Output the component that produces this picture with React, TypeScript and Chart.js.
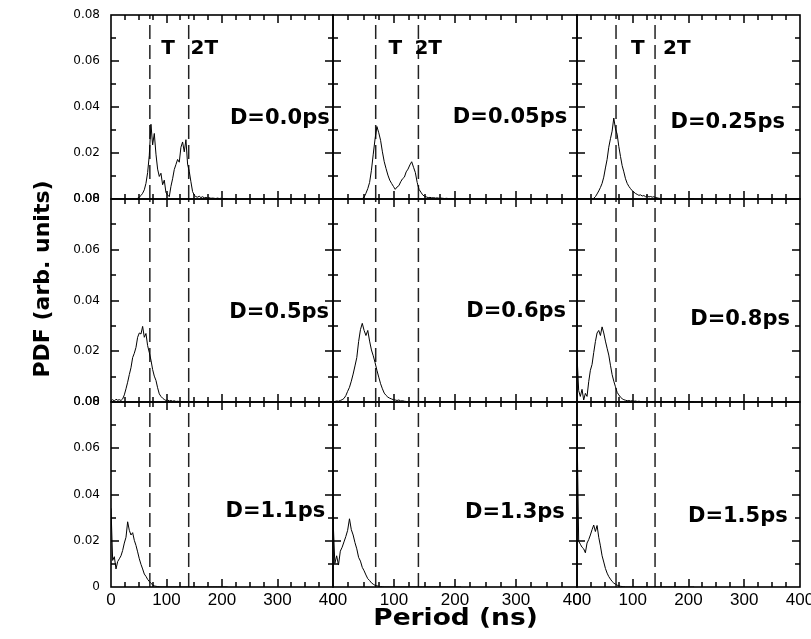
import React, { useEffect, useRef } from 'react';
import { Chart, registerables } from 'chart.js';

Chart.register(...registerables);

// Period bins shared by every histogram (ns)
const periodNs = [
  0, 3, 6, 9, 12, 15, 18, 21, 24, 27,
  30, 33, 36, 39, 42, 45, 48, 51, 54, 57,
  60, 63, 66, 69, 72, 75, 78, 81, 84, 87,
  90, 93, 96, 99, 102, 105, 108, 111, 114, 117,
  120, 123, 126, 129, 132, 135, 138, 141, 144, 147,
  150, 153, 156, 159, 162, 165, 168, 171, 174, 177,
  180, 183, 186, 189, 192, 195, 198, 201, 204, 207,
  210,
];

// PDF of the period for each jitter amplitude D
const pdfD000 = [
  0, 0, 0, 0, 0, 0, 0, 0, 0, 0,
  0, 0, 0, 0, 0, 0, 0.0003, 0.0008, 0.0015, 0.0025,
  0.004, 0.0068, 0.0115, 0.019, 0.0325, 0.0235, 0.0285, 0.0195, 0.013, 0.0098,
  0.0112, 0.0062, 0.0082, 0.0028, 0.0018, 0.001, 0.0055, 0.0088, 0.0128, 0.015,
  0.0172, 0.016, 0.0225, 0.0248, 0.0205, 0.0258, 0.0152, 0.012, 0.0075, 0.0032,
  0.0017, 0.001, 0.0008, 0.0012, 0.0006, 0.001, 0.0005, 0.0007, 0.0004, 0.0006,
  0.0003, 0.0004, 0.0003, 0.0002, 0.0004, 0.0002, 0.0003, 0.0001, 0.0002, 0.0001,
  0,
];
const pdfD005 = [
  0, 0, 0, 0, 0, 0, 0, 0, 0, 0,
  0, 0, 0, 0, 0, 0, 0.0002, 0.0008, 0.0025, 0.0045,
  0.0072, 0.0125, 0.0195, 0.0262, 0.0315, 0.0288, 0.0255, 0.0205, 0.0162, 0.0132,
  0.0104, 0.0082, 0.0068, 0.0055, 0.0042, 0.0052, 0.0058, 0.0075, 0.0088, 0.0095,
  0.0118, 0.013, 0.0148, 0.0162, 0.0138, 0.0115, 0.0072, 0.0042, 0.003, 0.0018,
  0.0012, 0.0009, 0.0006, 0.0007, 0.0005, 0.0006, 0.0004, 0.0005, 0.0003, 0.0004,
  0.0003, 0.0002, 0.0003, 0.0002, 0.0001, 0.0002, 0.0001, 0, 0, 0,
  0,
];
const pdfD025 = [
  0, 0, 0, 0, 0, 0, 0, 0, 0, 0,
  0.0003, 0.001, 0.0022, 0.0035, 0.005, 0.0068, 0.0095, 0.0135, 0.0172, 0.0225,
  0.0262, 0.0295, 0.0352, 0.0305, 0.0282, 0.0228, 0.0185, 0.0145, 0.0118, 0.0088,
  0.0068, 0.0055, 0.0045, 0.0036, 0.003, 0.0024, 0.002, 0.0016, 0.0018, 0.0013,
  0.0015, 0.001, 0.0014, 0.0009, 0.0011, 0.0008, 0.001, 0.0006, 0.0005, 0.0003,
  0.0002, 0.0001, 0, 0, 0, 0, 0, 0, 0, 0,
  0, 0, 0, 0, 0, 0, 0, 0, 0, 0,
  0,
];
const pdfD050 = [
  0.0005, 0.0009, 0.0004, 0.0011, 0.0007, 0.0009, 0.0006, 0.0012, 0.0028, 0.0052,
  0.0078, 0.0108, 0.0135, 0.0175, 0.0192, 0.0215, 0.0255, 0.0272, 0.0268, 0.0298,
  0.0255, 0.027, 0.0222, 0.0195, 0.0165, 0.0128, 0.0102, 0.0085, 0.0056, 0.0032,
  0.0022, 0.0015, 0.001, 0.0006, 0.0008, 0.0004, 0.0006, 0.0003, 0.0005, 0.0002,
  0.0003, 0.0002, 0.0001, 0.0002, 0.0001, 0.0001, 0, 0, 0, 0,
  0, 0, 0, 0, 0, 0, 0, 0, 0, 0,
  0, 0, 0, 0, 0, 0, 0, 0, 0, 0,
  0,
];
const pdfD060 = [
  0, 0.0002, 0.0004, 0.0003, 0.0006, 0.0009, 0.0014, 0.0025, 0.0042, 0.0058,
  0.0082, 0.011, 0.0142, 0.0175, 0.0238, 0.0285, 0.031, 0.0282, 0.0262, 0.0282,
  0.024, 0.0205, 0.0182, 0.0155, 0.0125, 0.0098, 0.0072, 0.0052, 0.0035, 0.0026,
  0.0019, 0.0015, 0.0012, 0.0009, 0.0008, 0.0006, 0.0008, 0.0004, 0.0005, 0.0003,
  0.0002, 0, 0, 0, 0, 0, 0, 0, 0, 0,
  0, 0, 0, 0, 0, 0, 0, 0, 0, 0,
  0, 0, 0, 0, 0, 0, 0, 0, 0, 0,
  0,
];
const pdfD080 = [
  0.0185, 0.0045, 0.0022, 0.005, 0.0008, 0.0034, 0.0022, 0.008, 0.0125, 0.0148,
  0.0195, 0.0238, 0.0272, 0.0282, 0.0262, 0.0296, 0.0272, 0.024, 0.0212, 0.0185,
  0.0145, 0.0108, 0.0082, 0.006, 0.0038, 0.0028, 0.0019, 0.0013, 0.0009, 0.0007,
  0.0005, 0.0006, 0.0004, 0.0005, 0.0003, 0.0004, 0.0002, 0.0003, 0.0002, 0.0001,
  0, 0, 0, 0, 0, 0, 0, 0, 0, 0,
  0, 0, 0, 0, 0, 0, 0, 0, 0, 0,
  0, 0, 0, 0, 0, 0, 0, 0, 0, 0,
  0,
];
const pdfD110 = [
  0.034, 0.0115, 0.0131, 0.0078, 0.011, 0.0122, 0.0135, 0.0158, 0.019, 0.0215,
  0.0282, 0.0245, 0.0225, 0.0235, 0.0202, 0.018, 0.0152, 0.0122, 0.0098, 0.0078,
  0.0056, 0.0046, 0.0033, 0.0024, 0.0016, 0.0009, 0.0005, 0.0003, 0.0002, 0.0001,
  0, 0, 0, 0, 0, 0, 0, 0, 0, 0,
  0, 0, 0, 0, 0, 0, 0, 0, 0, 0,
  0, 0, 0, 0, 0, 0, 0, 0, 0, 0,
  0, 0, 0, 0, 0, 0, 0, 0, 0, 0,
  0,
];
const pdfD130 = [
  0.03, 0.0102, 0.0135, 0.0095, 0.0155, 0.0172, 0.0195, 0.0218, 0.0245, 0.0295,
  0.0248, 0.0225, 0.0192, 0.0165, 0.0128, 0.0112, 0.0085, 0.007, 0.0052, 0.0036,
  0.0028, 0.0018, 0.0012, 0.0007, 0.0005, 0.0003, 0.0002, 0.0001, 0, 0,
  0, 0, 0, 0, 0, 0, 0, 0, 0, 0,
  0, 0, 0, 0, 0, 0, 0, 0, 0, 0,
  0, 0, 0, 0, 0, 0, 0, 0, 0, 0,
  0, 0, 0, 0, 0, 0, 0, 0, 0, 0,
  0,
];
const pdfD150 = [
  0.07, 0.0198, 0.0185, 0.0172, 0.0165, 0.0148, 0.019, 0.0205, 0.0225, 0.0248,
  0.0268, 0.024, 0.0266, 0.0215, 0.0178, 0.0135, 0.0108, 0.008, 0.006, 0.0045,
  0.0034, 0.0024, 0.0017, 0.0012, 0.0008, 0.0005, 0.0003, 0.0002, 0.0001, 0,
  0, 0, 0, 0, 0, 0, 0, 0, 0, 0,
  0, 0, 0, 0, 0, 0, 0, 0, 0, 0,
  0, 0, 0, 0, 0, 0, 0, 0, 0, 0,
  0, 0, 0, 0, 0, 0, 0, 0, 0, 0,
  0,
];

const panelSeries = [
  pdfD000, pdfD005, pdfD025,
  pdfD050, pdfD060, pdfD080,
  pdfD110, pdfD130, pdfD150,
];
const panelLabels = [
  'D=0.0ps', 'D=0.05ps', 'D=0.25ps',
  'D=0.5ps', 'D=0.6ps', 'D=0.8ps',
  'D=1.1ps', 'D=1.3ps', 'D=1.5ps',
];

// Reference periods T and 2T (ns)
const periodMarkers = [70, 140];
const markerLabels = ['T', '2T'];

const xTickValues = [0, 100, 200, 300, 400];
const yTickValues = [0, 0.02, 0.04, 0.06, 0.08];
const xMinorTicks = [25, 50, 75, 100, 125, 150, 175, 200, 225, 250, 275, 300, 325, 350, 375];
const yMinorTicks = [0.01, 0.02, 0.03, 0.04, 0.05, 0.06, 0.07];

// Grid geometry (relative panel sizes)
const colWeights = [222, 244, 223];
const rowWeights = [184, 203, 185];

// Label anchors in data units: [right edge (ns), baseline (PDF)]
const labelAnchors = [
  [394, 0.0326], [384, 0.033], [373, 0.0309],
  [393, 0.0331], [382, 0.0335], [382, 0.0303],
  [386, 0.0303], [380, 0.0298], [378, 0.0281],
];
// Centres of the "T" and "2T" captions in the top row (ns)
const markerLabelX = [[103, 168], [102, 156], [109, 179]];
const markerLabelY = 0.0632;

function drawText(
  ctx: CanvasRenderingContext2D,
  text: string,
  x: number,
  y: number,
  font: string,
  align: CanvasTextAlign,
  sx = 1,
  angle = 0,
) {
  ctx.save();
  ctx.translate(x, y);
  if (angle) ctx.rotate(angle);
  ctx.scale(sx, 1);
  ctx.font = font;
  ctx.textAlign = align;
  ctx.textBaseline = 'alphabetic';
  ctx.fillStyle = '#000';
  ctx.fillText(text, 0, 0);
  ctx.restore();
}

const panelDecor = {
  id: 'panelDecor',
  afterDraw(chart: any) {
    const ctx: CanvasRenderingContext2D = chart.ctx;
    const area = chart.chartArea;
    ctx.save();
    ctx.setLineDash([]);
    ctx.fillStyle = '#000';
    for (let r = 0; r < 3; r++) {
      for (let c = 0; c < 3; c++) {
        const xs = chart.scales['x' + c];
        const ys = chart.scales['y' + r];
        const left = Number(xs.left);
        const right = Number(xs.right);
        const top = Number(ys.top);
        const bottom = Number(ys.bottom);
        // inward tick marks on all four sides, drawn as thin filled bars
        for (const v of xMinorTicks) {
          const px = Math.round(xs.getPixelForValue(v));
          const len = v % 100 === 0 ? 8 : 5;
          ctx.fillRect(px - 0.75, bottom - len, 1.5, len);
          ctx.fillRect(px - 0.75, top, 1.5, len);
        }
        for (const v of yMinorTicks) {
          const py = Math.round(ys.getPixelForValue(v));
          const len = Math.round(v * 100) % 2 === 0 ? 8 : 5;
          ctx.fillRect(left, py - 0.75, len, 1.5);
          ctx.fillRect(right - len, py - 0.75, len, 1.5);
        }
        // panel frame
        ctx.strokeStyle = '#000';
        ctx.lineWidth = 1.6;
        ctx.strokeRect(left, top, right - left, bottom - top);
      }
    }
    ctx.restore();

    for (let p = 0; p < 9; p++) {
      const r = Math.floor(p / 3);
      const c = p % 3;
      const xs = chart.scales['x' + c];
      const ys = chart.scales['y' + r];
      const [ax, ay] = labelAnchors[p];
      drawText(ctx, panelLabels[p], xs.getPixelForValue(ax), ys.getPixelForValue(ay),
        'bold 21px "DejaVu Sans"', 'right');
      if (r === 0) {
        markerLabels.forEach((t, i) => {
          drawText(ctx, t, xs.getPixelForValue(markerLabelX[c][i]), ys.getPixelForValue(markerLabelY),
            'bold 20px "DejaVu Sans"', 'center');
        });
      }
    }
    // axis titles
    drawText(ctx, 'Period (ns)', (area.left + area.right) / 2, 625,
      'bold 23px "DejaVu Sans"', 'center', 1.15);
    drawText(ctx, 'PDF (arb. units)', 49, 279,
      'bold 22px "DejaVu Sans"', 'center', 1, -Math.PI / 2);
  },
};

export default function App() {
  const canvasRef = useRef<HTMLCanvasElement | null>(null);

  useEffect(() => {
    const canvas = canvasRef.current;
    if (!canvas) return;

    const datasets: any[] = [];
    panelSeries.forEach((vals, p) => {
      const r = Math.floor(p / 3);
      const c = p % 3;
      datasets.push({
        label: panelLabels[p],
        data: periodNs.map((x, i) => ({ x, y: vals[i] })),
        xAxisID: 'x' + c,
        yAxisID: 'y' + r,
        borderColor: '#000',
        borderWidth: 1,
        pointRadius: 0,
        tension: 0,
        fill: false,
      });
      periodMarkers.forEach((m, i) => {
        datasets.push({
          label: markerLabels[i],
          data: [{ x: m, y: 0 }, { x: m, y: 0.08 }],
          xAxisID: 'x' + c,
          yAxisID: 'y' + r,
          borderColor: '#222',
          borderWidth: 1.5,
          borderDash: [14, 6],
          pointRadius: 0,
          fill: false,
        });
      });
    });

    const scales: any = {};
    [0, 1, 2].forEach((c) => {
      scales['x' + c] = {
        type: 'linear',
        position: 'bottom',
        stack: 'cols',
        stackWeight: colWeights[c],
        min: 0,
        max: 400,
        afterBuildTicks: (s: any) => {
          s.ticks = xTickValues.map((value) => ({ value }));
        },
        afterFit: (s: any) => {
          s.height = 52;
          s.paddingLeft = 0;
          s.paddingRight = 0;
        },
        grid: { display: false, drawTicks: false },
        border: { display: false },
        ticks: {
          autoSkip: false,
          maxRotation: 0,
          padding: 3,
          color: '#000',
          font: { family: '"Liberation Sans Narrow", "Liberation Sans", Arial, sans-serif', size: 17 },
          callback: (v: number) => String(v),
        },
      };
    });
    // the left-hand stack is laid out from the last-defined scale, so bottom row first
    [2, 1, 0].forEach((r) => {
      scales['y' + r] = {
        type: 'linear',
        position: 'left',
        stack: 'rows',
        stackWeight: rowWeights[r],
        min: 0,
        max: 0.08,
        afterBuildTicks: (s: any) => {
          s.ticks = yTickValues.map((value) => ({ value }));
        },
        afterFit: (s: any) => {
          s.width = 111;
          s.paddingTop = 0;
          s.paddingBottom = 0;
        },
        grid: { display: false, drawTicks: false },
        border: { display: false },
        ticks: {
          autoSkip: false,
          padding: 11,
          color: '#000',
          font: { family: '"DejaVu Sans", sans-serif', size: 12 },
          callback: (v: number) => (r === 2 && v === 0 ? '0' : v.toFixed(2)),
        },
      };
    });

    const chart = new Chart(canvas, {
      type: 'line',
      data: { datasets },
      options: {
        responsive: false,
        animation: false,
        layout: { padding: { top: 15, right: 11, bottom: 0, left: 0 } },
        plugins: {
          legend: { display: false },
          tooltip: { enabled: false },
        },
        scales,
      },
      plugins: [panelDecor],
    });

    return () => chart.destroy();
  }, []);

  return (
    <div style={{ position: 'absolute', left: 0, top: 0, width: 811, height: 639, background: '#fff' }}>
      <canvas ref={canvasRef} width={811} height={639} style={{ display: 'block' }} />
    </div>
  );
}
